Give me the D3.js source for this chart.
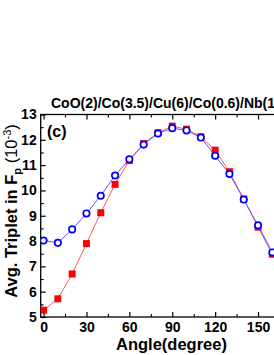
<!DOCTYPE html>
<html><head><meta charset="utf-8">
<script src="https://cdn.jsdelivr.net/npm/d3@7"></script>
<style>
html,body{margin:0;padding:0;background:#fff;overflow:hidden;}
svg{display:block;font-family:"Liberation Sans",Arial,sans-serif;}
</style></head>
<body>
<script>
const angles = [0,10,20,30,40,50,60,70,80,90,100,110,120,130,140,150,160,170];
const redValues = [5.27,5.72,6.70,7.90,9.12,10.24,11.18,11.85,12.28,12.54,12.42,12.12,11.59,10.74,9.66,8.55,7.48,6.55];
const blueValues = [8.02,7.93,8.46,9.09,9.79,10.59,11.23,11.81,12.25,12.46,12.37,12.09,11.37,10.65,9.64,8.62,7.55,6.60];
const xTicks = [0,30,60,90,120,150];
const yTicks = [5,6,7,8,9,10,11,12,13];
const titleText = "CoO(2)/Co(3.5)/Cu(6)/Co(0.6)/Nb(10)";

(function(){
const W = 274, H = 355;
const svg = d3.select("body").append("svg").attr("width", W).attr("height", H);

const x = d3.scaleLinear().domain([-2, 182]).range([40.7, 303.8]);
const y = d3.scaleLinear().domain([5, 13]).range([317, 114.5]);
const pL = x.range()[0], pR = x.range()[1], pT = y.range()[1], pB = y.range()[0];

const xMinor = d3.range(15, 181, 30);
const yMinor = d3.range(5.5, 13, 1);

const g = svg.append("g");
g.append("rect").attr("x", pL).attr("y", pT).attr("width", pR-pL).attr("height", pB-pT)
  .attr("fill","none").attr("stroke","#000").attr("stroke-width",1.3);

const gx = g.append("g").attr("transform", `translate(0,${pB})`)
  .call(d3.axisBottom(x).tickValues(xTicks).tickSizeInner(-5).tickSizeOuter(0).tickPadding(5));
gx.select(".domain").remove();
gx.selectAll("line").attr("stroke-width",1.2);
gx.selectAll("text").attr("font-size",14).attr("font-weight","bold").attr("fill","#000");
g.append("g").attr("transform", `translate(0,${pB})`)
  .call(d3.axisBottom(x).tickValues(xMinor).tickSizeInner(-3).tickSizeOuter(0).tickFormat(""))
  .call(s=>{s.select(".domain").remove(); s.selectAll("line").attr("stroke-width",1.1);});
g.append("g").attr("transform", `translate(0,${pT})`)
  .call(d3.axisTop(x).tickValues(xTicks.concat([180])).tickSizeInner(-5).tickSizeOuter(0).tickFormat(""))
  .call(s=>{s.select(".domain").remove(); s.selectAll("line").attr("stroke-width",1.2);});
g.append("g").attr("transform", `translate(0,${pT})`)
  .call(d3.axisTop(x).tickValues(xMinor).tickSizeInner(-3).tickSizeOuter(0).tickFormat(""))
  .call(s=>{s.select(".domain").remove(); s.selectAll("line").attr("stroke-width",1.1);});

const gy = g.append("g").attr("transform", `translate(${pL},0)`)
  .call(d3.axisLeft(y).tickValues(yTicks).tickSizeInner(-5).tickSizeOuter(0).tickPadding(4));
gy.select(".domain").remove();
gy.selectAll("line").attr("stroke-width",1.2);
gy.selectAll("text").attr("font-size",14).attr("font-weight","bold").attr("fill","#000");
g.append("g").attr("transform", `translate(${pL},0)`)
  .call(d3.axisLeft(y).tickValues(yMinor).tickSizeInner(-3).tickSizeOuter(0).tickFormat(""))
  .call(s=>{s.select(".domain").remove(); s.selectAll("line").attr("stroke-width",1.1);});

svg.append("clipPath").attr("id","clip").append("rect")
  .attr("x", pL).attr("y", pT).attr("width", pR-pL).attr("height", pB-pT);
const plot = svg.append("g").attr("clip-path","url(#clip)");

const redData = angles.map((a,i)=>({a, v: redValues[i]}));
const blueData = angles.map((a,i)=>({a, v: blueValues[i]}));
const line = d3.line().x(d=>x(d.a)).y(d=>y(d.v));

plot.append("path").datum(redData).attr("d", line).attr("fill","none")
  .attr("stroke","#ff5a5a").attr("stroke-width",1);
plot.append("path").datum(blueData).attr("d", line).attr("fill","none")
  .attr("stroke","#5a5aff").attr("stroke-width",1);
const sq = 7;
plot.selectAll("rect.red").data(redData).enter().append("rect").attr("class","red")
  .attr("x", d=>x(d.a)-sq/2).attr("y", d=>y(d.v)-sq/2).attr("width", sq).attr("height", sq)
  .attr("fill","#ff0000");
plot.selectAll("circle.blue").data(blueData).enter().append("circle").attr("class","blue")
  .attr("cx", d=>x(d.a)).attr("cy", d=>y(d.v)).attr("r", 3.2)
  .attr("fill","#fff").attr("stroke","#0000ff").attr("stroke-width",1.7);

svg.append("text").attr("x", 51).attr("y", 107.5).attr("font-size",14).attr("font-weight","bold")
  .attr("fill","#000").text(titleText);
svg.append("text").attr("x", 47).attr("y", 137).attr("font-size",16).attr("font-weight","bold")
  .attr("fill","#000").text("(c)");
svg.append("text").attr("x", 171.5).attr("y", 350).attr("text-anchor","middle")
  .attr("font-size",16.5).attr("font-weight","bold").attr("fill","#000").text("Angle(degree)");
const yl = svg.append("text").attr("transform","translate(17,211) rotate(-90)").attr("text-anchor","middle")
  .attr("font-size",16.5).attr("font-weight","bold").attr("fill","#000");
yl.append("tspan").text("Avg. Triplet in F");
yl.append("tspan").attr("font-size",11).attr("dy",4).text("p");
yl.append("tspan").attr("font-weight","normal").attr("dy",-4).text(" (10");
yl.append("tspan").attr("font-weight","normal").attr("font-size",11).attr("dy",-6).text("-3");
yl.append("tspan").attr("font-weight","normal").attr("dy",6).text(")");
})();
</script>
</body></html>
